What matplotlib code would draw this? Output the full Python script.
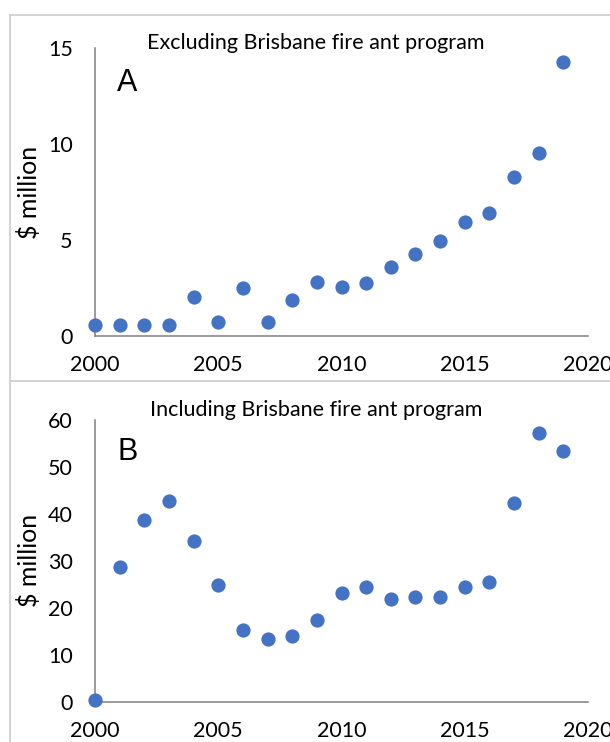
import matplotlib.pyplot as plt
from matplotlib.lines import Line2D

# data
years = list(range(2000, 2020))
excl_fire_ant = [0.55, 0.55, 0.55, 0.55, 2.05, 0.75, 2.48, 0.75, 1.85, 2.83,
                 2.57, 2.74, 3.58, 4.25, 4.97, 5.92, 6.39, 8.3, 9.55, 14.29]
incl_fire_ant = [0.35, 28.6, 38.7, 42.8, 34.3, 24.8, 15.3, 13.4, 14.1, 17.3,
                 23.1, 24.4, 21.8, 22.2, 22.2, 24.5, 25.4, 42.4, 57.2, 53.5]
x_ticks = [2000, 2005, 2010, 2015, 2020]
titles = ['Excluding Brisbane fire ant program', 'Including Brisbane fire ant program']
panel_labels = ['A', 'B']

plt.rcParams['font.family'] = ['Lato', 'DejaVu Sans']

W, H = 610, 742
fig = plt.figure(figsize=(W / 100, H / 100), dpi=100)

blue = '#4472C4'
spine_col = '#808080'


def px_axes(left, right, top, bottom):
    return fig.add_axes([left / W, 1 - bottom / H, (right - left) / W, (bottom - top) / H])


panels = [
    (px_axes(95, 588, 48, 336), excl_fire_ant, [0, 5, 10, 15], 15),
    (px_axes(95, 588, 420, 701.7), incl_fire_ant, [0, 10, 20, 30, 40, 50, 60], 60),
]

for i, (ax, vals, yt, ymax) in enumerate(panels):
    ax.scatter(years, vals, s=105, color=blue, clip_on=False, zorder=3, linewidths=0)
    ax.set_xlim(2000, 2020)
    ax.set_ylim(0, ymax)
    ax.set_xticks(x_ticks)
    ax.set_yticks(yt)
    ax.tick_params(length=0, labelsize=15.5, colors='black')
    ax.tick_params(axis='x', pad=14)
    ax.tick_params(axis='y', pad=16)
    for s in ['top', 'right']:
        ax.spines[s].set_visible(False)
    for s in ['left', 'bottom']:
        ax.spines[s].set_color(spine_col)
        ax.spines[s].set_linewidth(1.1)
    ax.set_ylabel('$ million', fontsize=18, labelpad=5)
    ax.text(0.045, 0.93 if i == 0 else 0.94, panel_labels[i], transform=ax.transAxes,
            fontsize=22, family='Liberation Sans', va='top', ha='left')

fig.text(316 / W, 1 - 43 / H, titles[0], ha='center', va='center', fontsize=15.5)
fig.text(316 / W, 1 - 410 / H, titles[1], ha='center', va='center', fontsize=15.5)

# panel frames
border = '#d0d0d0'
for xs, ys in [([10, 10], [15, H]), ([10, W], [15, 15]), ([10, W], [381, 381])]:
    fig.add_artist(Line2D([x / W for x in xs], [1 - y / H for y in ys],
                          color=border, lw=1.3, transform=fig.transFigure))

fig.savefig('out.png', dpi=100)
